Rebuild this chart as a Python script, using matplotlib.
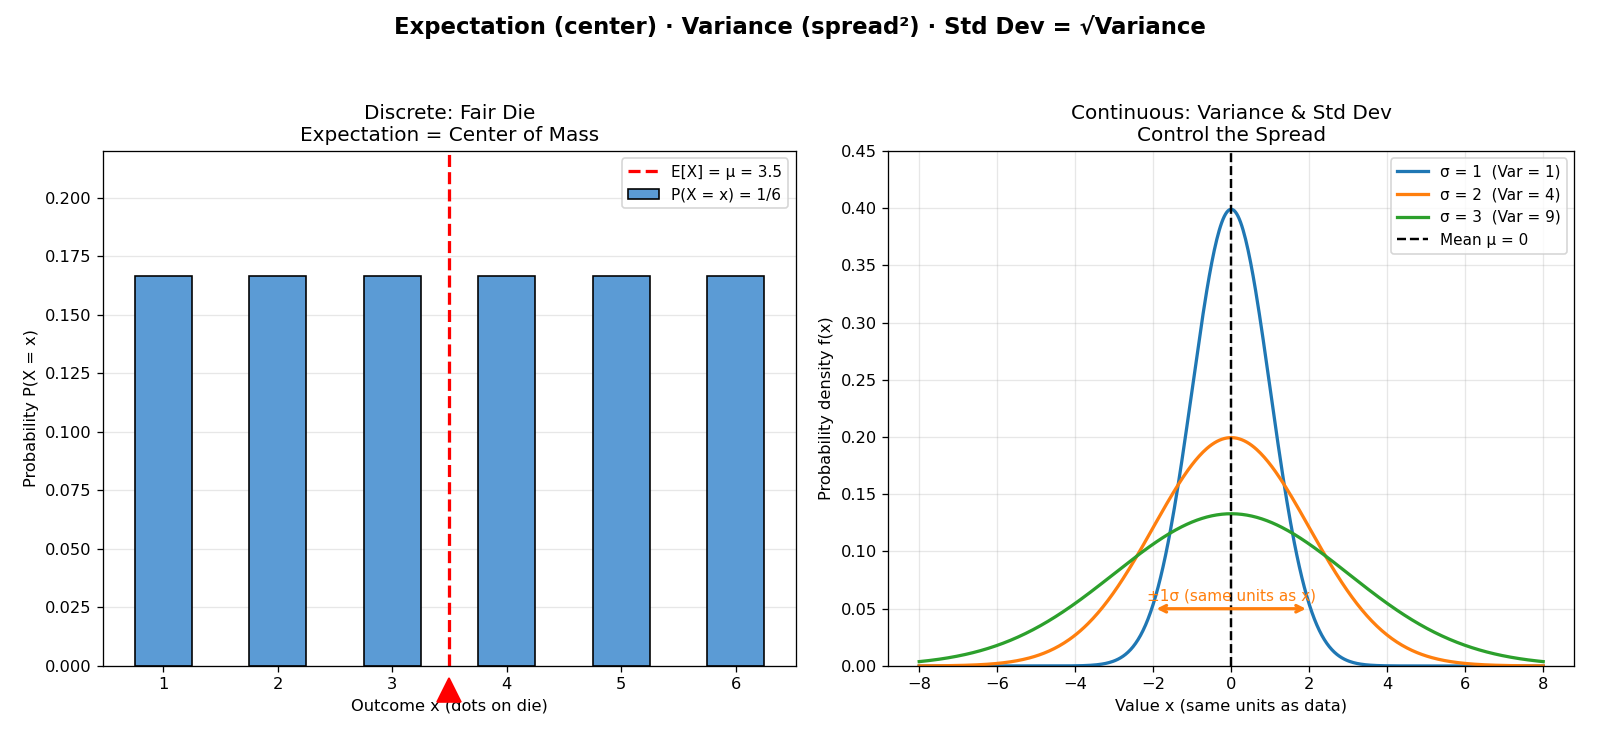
import numpy as np
import matplotlib
matplotlib.use("Agg")
import matplotlib.pyplot as plt

# Data
outcomes = [1, 2, 3, 4, 5, 6]
probs = [1/6] * 6
mean_die = 3.5
sigmas = [1, 2, 3]
sigma_colors = ["#1f77b4", "#ff7f0e", "#2ca02c"]
x_grid = np.linspace(-8, 8, 500)

DPI = 117
fig = plt.figure(figsize=(1600 / DPI, 738 / DPI), dpi=DPI)
fig.suptitle("Expectation (center) · Variance (spread²) · Std Dev = √Variance",
             fontsize=14, fontweight="bold", y=0.98)

ax1 = fig.add_axes([0.0644, 0.0976, 0.433, 0.698])
ax2 = fig.add_axes([0.555, 0.0976, 0.429, 0.698])

# Left panel
ax1.bar(outcomes, probs, width=0.5, color="#5b9bd5", edgecolor="black",
        linewidth=1, label="P(X = x) = 1/6")
ax1.axvline(mean_die, color="red", linestyle="--", linewidth=2,
            label="E[X] = μ = 3.5")
ax1.plot([mean_die], [-0.0102], marker="^", color="red", markersize=15,
         clip_on=False)
ax1.set_ylim(0, 0.22)
ax1.set_xticks(outcomes)
ax1.set_xlabel("Outcome x (dots on die)", fontsize=10)
ax1.set_ylabel("Probability P(X = x)", fontsize=10)
ax1.set_title("Discrete: Fair Die\nExpectation = Center of Mass", fontsize=12.3)
ax1.grid(axis="y", alpha=0.3)
ax1.set_axisbelow(True)
ax1.legend(loc="upper right", fontsize=9.4)

# Right panel
for s, c in zip(sigmas, sigma_colors):
    pdf = np.exp(-x_grid**2 / (2 * s**2)) / (s * np.sqrt(2 * np.pi))
    ax2.plot(x_grid, pdf, color=c, linewidth=2,
             label=f"σ = {s}  (Var = {s**2})")
ax2.axvline(0, color="black", linestyle="--", linewidth=1.5, label="Mean μ = 0")
ax2.annotate("", xy=(2, 0.05), xytext=(-2, 0.05),
             arrowprops=dict(arrowstyle="<->", color="#ff7f0e", lw=2))
ax2.text(0, 0.055, "±1σ (same units as x)", color="#ff7f0e", fontsize=9.4,
         ha="center", va="bottom")
ax2.set_ylim(0, 0.45)
ax2.set_xlabel("Value x (same units as data)", fontsize=10)
ax2.set_ylabel("Probability density f(x)", fontsize=10)
ax2.set_title("Continuous: Variance & Std Dev\nControl the Spread", fontsize=12.3)
ax2.grid(alpha=0.3)
ax2.legend(loc="upper right", fontsize=9.4)

fig.savefig("out.png", dpi=DPI)
